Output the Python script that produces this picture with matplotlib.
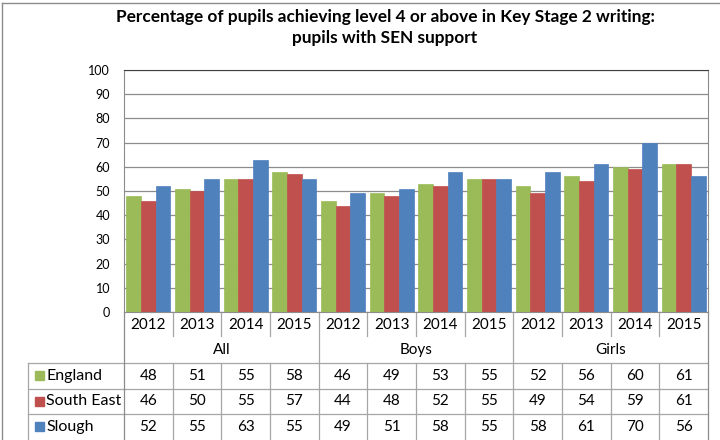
import numpy as np
import matplotlib.pyplot as plt
from matplotlib.patches import Rectangle
from matplotlib.lines import Line2D

plt.rcParams['font.family'] = ['Lato', 'DejaVu Sans']

# data
groups = ['All', 'Boys', 'Girls']
years = ['2012', '2013', '2014', '2015']
series = ['England', 'South East', 'Slough']
england = [48, 51, 55, 58, 46, 49, 53, 55, 52, 56, 60, 61]
south_east = [46, 50, 55, 57, 44, 48, 52, 55, 49, 54, 59, 61]
slough = [52, 55, 63, 55, 49, 51, 58, 55, 58, 61, 70, 56]
colors = ['#9BBB59', '#C0504D', '#4F81BD']

W, H = 720, 440
fig = plt.figure(figsize=(W / 100, H / 100), dpi=100)
ax = fig.add_axes([124 / W, (H - 312) / H, 584 / W, 242 / H])

values = [england, south_east, slough]
n = len(england)
x = np.arange(n)
bw = 0.3
for j, (vals, c) in enumerate(zip(values, colors)):
    ax.bar(x + (j - 1) * bw, vals, width=bw, color=c, edgecolor=c,
           linewidth=0.5, zorder=3)

ax.set_xlim(-0.5, n - 0.5)
ax.set_ylim(0, 100)
ax.set_yticks(range(0, 101, 10))
ax.tick_params(axis='y', length=0, labelsize=9, pad=10)
ax.set_xticks([])
ax.yaxis.grid(True, color='#8c8c8c', linewidth=0.9)
ax.set_axisbelow(True)
for s in ax.spines.values():
    s.set_color('#8c8c8c')
ax.spines['top'].set_color('#404040')

# data table under the plot
line_c = '#a6a6a6'
rh = 25.5 / 242          # row height in axes fraction
leg_left = (28 - 124) / 584
tr = ax.get_xaxis_transform()
ta = ax.transAxes

def hline(y, x0, x1):
    ax.plot([x0, x1], [y, y], transform=ta, color=line_c, lw=0.9, clip_on=False)

def vline(xd, y0, y1, c=line_c):
    ax.plot([xd, xd], [y0, y1], transform=tr, color=c, lw=0.9, clip_on=False)

for k in range(2, 5):
    hline(-k * rh, leg_left, 1)
ax.plot([leg_left, leg_left], [-2 * rh, -5 * rh], transform=ta,
        color=line_c, lw=0.9, clip_on=False)

per = len(years)
for i in range(n + 1):
    xe = i - 0.5
    if i % per == 0:
        vline(xe, 0, -5 * rh, '#8c8c8c' if i in (0, n) else line_c)
    else:
        vline(xe, 0, -0.95 * rh)
        vline(xe, -2 * rh, -5 * rh)

fs = 11
for i in range(n):
    ax.text(i, -0.5 * rh, years[i % per], transform=tr, ha='center',
            va='center', fontsize=fs)
    for j, vals in enumerate(values):
        ax.text(i, -(2.5 + j) * rh, str(vals[i]), transform=tr,
                ha='center', va='center', fontsize=fs)
for g, name in enumerate(groups):
    ax.text(g * per + (per - 1) / 2, -1.5 * rh, name, transform=tr,
            ha='center', va='center', fontsize=fs)

sq = 9 / 584
for j, (name, c) in enumerate(zip(series, colors)):
    yc = -(2.5 + j) * rh
    ax.add_patch(Rectangle(((35 - 124) / 584, yc - 4.5 / 242), sq, 9 / 242,
                           transform=ta, color=c, clip_on=False))
    ax.text((46 - 124) / 584, yc, name, transform=ta, ha='left',
            va='center', fontsize=11.5)

# chart border and title
fig.add_artist(Line2D([2 / W, 2 / W], [0, 1 - 3 / H], transform=fig.transFigure,
                      color='#8c8c8c', lw=1))
fig.add_artist(Line2D([2 / W, 1], [1 - 3 / H, 1 - 3 / H], transform=fig.transFigure,
                      color='#8c8c8c', lw=1))
fig.text(385 / W, 1 - 17 / H,
         'Percentage of pupils achieving level 4 or above in Key Stage 2 writing:',
         ha='center', va='center', fontsize=12.4, fontweight='bold')
fig.text(385 / W, 1 - 38 / H, 'pupils with SEN support',
         ha='center', va='center', fontsize=12.4, fontweight='bold')

fig.savefig('out.png', dpi=100)
